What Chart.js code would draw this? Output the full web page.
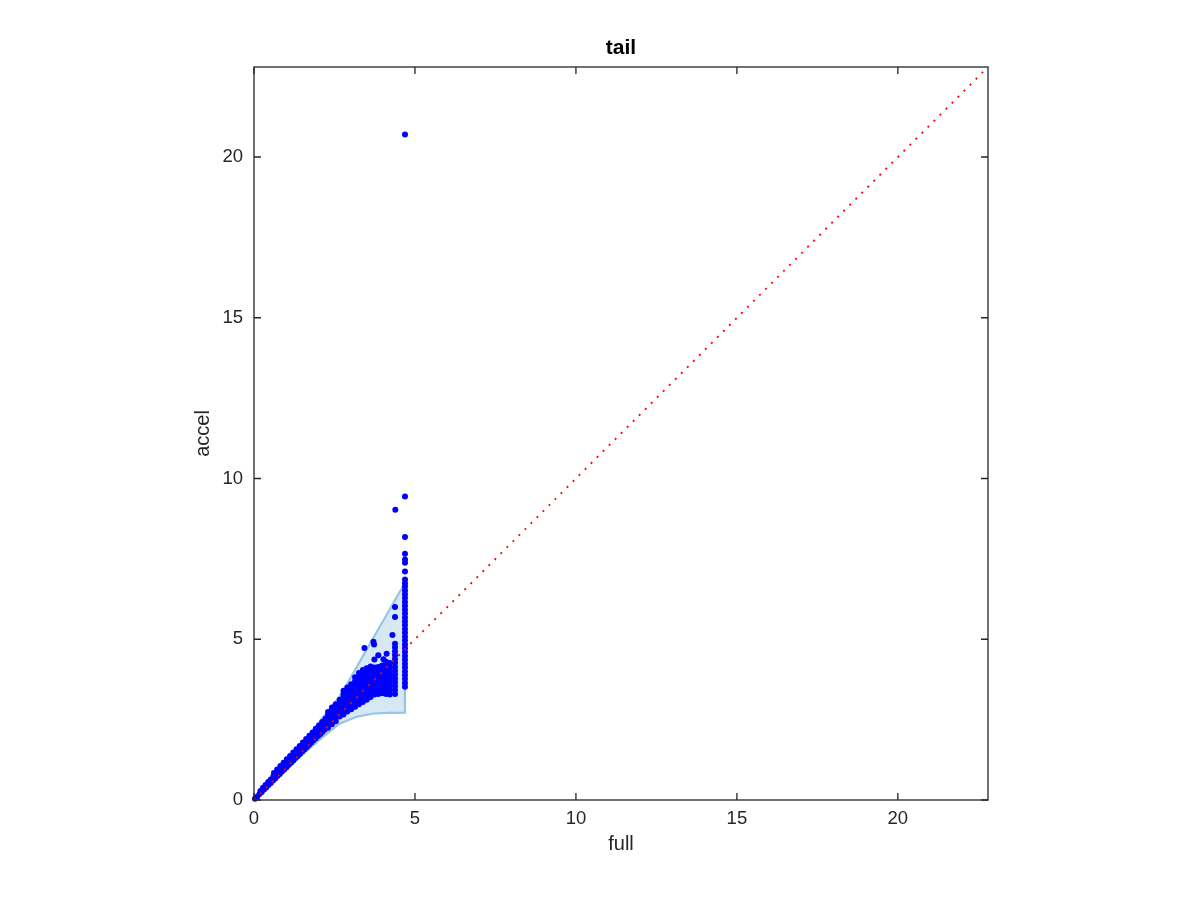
<!DOCTYPE html>
<html>
<head>
<meta charset="utf-8">
<title>tail</title>
<script src="https://cdn.jsdelivr.net/npm/chart.js@4.4.1/dist/chart.umd.min.js"></script>
<style>
html,body{margin:0;padding:0;background:#fff}
#wrap{width:1200px;height:900px}
</style>
</head>
<body>
<div id="wrap"><canvas id="c" width="1200" height="900"></canvas></div>
<script>
// values: x = full, y = accel
const AXIS_MAX = 22.8;
const tickVals = [0, 5, 10, 15, 20];

// shaded band edges
const shadeUpper = [[0,0],[0.5,0.56],[1,1.15],[1.5,1.76],[2,2.4],[2.5,3.03],[2.67,3.23],[3,3.8],[3.5,4.68],[4,5.55],[4.68,6.74]];
const shadeLower = [[0,0],[0.5,0.48],[1,0.95],[1.5,1.4],[2.15,1.97],[2.67,2.38],[3.19,2.59],[3.71,2.69],[4.2,2.71],[4.69,2.72]];

// thin band near the origin
const bandPts = [
  [0.03,0.04],[0.1,0.1],[0.17,0.19],[0.24,0.25],[0.31,0.33],[0.38,0.39],[0.45,0.47],[0.52,0.53],
  [0.59,0.61],[0.66,0.67],[0.73,0.75],[0.8,0.81],[0.87,0.89],[0.94,0.95],[1.01,1.02],[1.08,1.1],
  [1.15,1.16],[1.22,1.23],[1.29,1.31],[1.36,1.37],[1.43,1.44],[1.5,1.52],[1.57,1.58],[1.64,1.65],
  [1.71,1.72],[1.78,1.79],[1.85,1.86],[1.92,1.92],[1.99,1.99],[2.06,2.05],[2.13,2.12],[2.2,2.19],
  [0.2,0.28],[0.28,0.38],[0.36,0.47],[0.44,0.56],[0.52,0.64],[0.6,0.73],[0.68,0.81],[0.76,0.89],
  [0.84,0.97],[0.92,1.05],[1.0,1.13],[1.08,1.21],[1.16,1.29],[1.24,1.38],[1.32,1.46],[1.4,1.54],
  [1.48,1.62],[1.56,1.7],[1.64,1.79],[1.72,1.87],[1.8,1.95],[1.88,2.03],[1.96,2.12],[2.04,2.2],
  [2.12,2.29],[2.2,2.37],
  [0.62,0.84],[0.72,0.95],[0.82,1.06],[0.92,1.16],[1.02,1.27],[1.12,1.37],[1.22,1.48],[1.32,1.58],
  [1.42,1.68],[1.52,1.79],[1.62,1.9],[1.72,2.0],[1.82,2.1],[1.92,2.22],[2.02,2.32],[2.12,2.43],[2.22,2.53]
];

// wider cluster, x 2.3 .. 4.2
const clusterPts = [
  [2.3,2.25],[2.3,2.38],[2.3,2.5],[2.3,2.62],[2.3,2.74],
  [2.42,2.36],[2.42,2.5],[2.42,2.63],[2.42,2.76],[2.42,2.88],
  [2.54,2.45],[2.54,2.58],[2.54,2.72],[2.54,2.85],[2.54,2.98],
  [2.66,2.6],[2.66,2.73],[2.66,2.86],[2.66,2.99],[2.66,3.12],
  [2.78,2.66],[2.78,2.8],[2.78,2.94],[2.78,3.08],[2.78,3.2],[2.78,3.3],[2.78,3.4],
  [2.9,2.75],[2.9,2.88],[2.9,3.02],[2.9,3.15],[2.9,3.28],[2.9,3.38],[2.9,3.5],
  [3.02,2.82],[3.02,2.96],[3.02,3.1],[3.02,3.23],[3.02,3.36],[3.02,3.48],[3.02,3.6],
  [3.14,2.9],[3.14,3.04],[3.14,3.18],[3.14,3.32],[3.14,3.45],[3.14,3.6],[3.14,3.7],[3.14,3.82],
  [3.26,2.98],[3.26,3.12],[3.26,3.26],[3.26,3.4],[3.26,3.54],[3.26,3.68],[3.26,3.82],[3.26,3.95],
  [3.38,3.05],[3.38,3.2],[3.38,3.34],[3.38,3.48],[3.38,3.62],[3.38,3.76],[3.38,3.9],[3.38,4.04],
  [3.5,3.12],[3.5,3.26],[3.5,3.4],[3.5,3.54],[3.5,3.68],[3.5,3.82],[3.5,3.96],[3.5,4.1],
  [3.62,3.2],[3.62,3.34],[3.62,3.48],[3.62,3.62],[3.62,3.76],[3.62,3.9],[3.62,4.04],[3.62,4.15],
  [3.74,3.28],[3.74,3.42],[3.74,3.56],[3.74,3.7],[3.74,3.84],[3.74,3.98],[3.74,4.12],
  [3.86,3.3],[3.86,3.44],[3.86,3.58],[3.86,3.72],[3.86,3.86],[3.86,4.0],[3.86,4.14],
  [3.98,3.32],[3.98,3.46],[3.98,3.6],[3.98,3.74],[3.98,3.88],[3.98,4.02],[3.98,4.18],
  [4.1,3.3],[4.1,3.44],[4.1,3.58],[4.1,3.72],[4.1,3.86],[4.1,4.0],[4.1,4.15],[4.1,4.3],
  [4.22,3.28],[4.22,3.42],[4.22,3.56],[4.22,3.7],[4.22,3.84],[4.22,3.98],[4.22,4.12],[4.22,4.26],
  [3.43,4.73],[3.71,4.92],[3.73,4.84],[3.74,4.37],[4.02,4.38],[3.86,4.5],[4.12,4.55],[4.3,5.13]
];

// the two vertical columns near x = 4.4 and x = 4.7
const columnPts = [
  [4.38,3.3],[4.38,3.42],[4.38,3.54],[4.38,3.66],[4.38,3.78],[4.38,3.9],[4.38,4.02],[4.38,4.14],
  [4.38,4.26],[4.38,4.38],[4.38,4.5],[4.38,4.62],[4.38,4.74],[4.38,4.86],[4.38,5.69],[4.38,6.0],
  [4.69,3.52],[4.69,3.64],[4.69,3.76],[4.69,3.88],[4.69,4.0],[4.69,4.12],[4.69,4.24],[4.69,4.36],
  [4.69,4.48],[4.69,4.6],[4.69,4.72],[4.69,4.84],[4.69,4.96],[4.69,5.08],[4.69,5.2],[4.69,5.32],
  [4.69,5.44],[4.69,5.56],[4.69,5.68],[4.69,5.8],[4.69,5.92],[4.69,6.04],[4.69,6.16],[4.69,6.28],
  [4.69,6.4],[4.69,6.52],[4.69,6.64],[4.69,6.74]
];

const outlierPts = [[4.69,6.86],[4.69,7.11],[4.69,7.38],[4.69,7.48],[4.69,7.66],[4.69,8.18],[4.69,9.44],[4.39,9.03],[4.69,20.7]];

const diagLine = [[0,0],[AXIS_MAX,AXIS_MAX]];

const AXIS_COLOR = '#262626';
const FONT = '"Liberation Sans", Arial, Helvetica, sans-serif';

function toXY(arr){ return arr.map(p => ({x:p[0], y:p[1]})); }

const shadePoly = shadeUpper.concat(shadeLower.slice().reverse());
const scatterAll = bandPts.concat(clusterPts, columnPts, outlierPts);

// draw the full box and the inward tick marks on all four sides
const boxPlugin = {
  id: 'boxTicks',
  afterDatasetsDraw(chart){
    const {ctx, chartArea:a, scales} = chart;
    const len = 7;
    ctx.save();
    ctx.strokeStyle = AXIS_COLOR;
    ctx.lineWidth = 1.3;
    ctx.strokeRect(a.left, a.top, a.right - a.left, a.bottom - a.top);
    ctx.beginPath();
    scales.x.ticks.forEach(t => {
      const px = scales.x.getPixelForValue(t.value);
      ctx.moveTo(px, a.bottom); ctx.lineTo(px, a.bottom - len);
      ctx.moveTo(px, a.top); ctx.lineTo(px, a.top + len);
    });
    scales.y.ticks.forEach(t => {
      const py = scales.y.getPixelForValue(t.value);
      ctx.moveTo(a.left, py); ctx.lineTo(a.left + len, py);
      ctx.moveTo(a.right, py); ctx.lineTo(a.right - len, py);
    });
    ctx.stroke();
    ctx.restore();
  }
};

function axisCommon(titleText, fitFn){
  return {
    type: 'linear',
    min: 0,
    max: AXIS_MAX,
    afterBuildTicks: s => { s.ticks = tickVals.map(v => ({value: v})); },
    afterFit: fitFn,
    grid: {display: false},
    border: {display: false},
    ticks: {color: AXIS_COLOR, font: {family: FONT, size: 18.5}},
    title: {display: true, text: titleText, color: AXIS_COLOR, font: {family: FONT, size: 20}, padding: {top: 4, bottom: 4}}
  };
}

const xAxis = axisCommon('full', s => { s.height = 60; });
xAxis.ticks.padding = 0;
const yAxis = axisCommon('accel', s => { s.width = 67; });
yAxis.ticks.padding = 3;

new Chart(document.getElementById('c'), {
  type: 'scatter',
  data: {
    datasets: [
      {
        label: 'diag',
        data: toXY(diagLine),
        showLine: true,
        borderColor: '#ff0000',
        borderWidth: 1.8,
        borderDash: [2, 6.5],
        pointRadius: 0,
        fill: false,
        clip: false,
        order: 1
      },
      {
        label: 'points',
        data: toXY(scatterAll),
        backgroundColor: '#0000ff',
        borderWidth: 0,
        pointRadius: 3,
        clip: false,
        order: 2
      },
      {
        label: 'range',
        data: toXY(shadePoly),
        showLine: true,
        borderColor: 'rgb(150,196,228)',
        borderWidth: 2.2,
        backgroundColor: 'rgb(214,232,244)',
        fill: 'shape',
        pointRadius: 0,
        order: 3
      }
    ]
  },
  options: {
    responsive: false,
    animation: false,
    layout: {padding: {left: 187, right: 212, top: 26, bottom: 40}},
    plugins: {
      legend: {display: false},
      tooltip: {enabled: false},
      title: {
        display: true,
        text: 'tail',
        fullSize: false,
        color: '#000',
        font: {family: FONT, size: 21, weight: 'bold'},
        padding: {top: 9.4, bottom: 6.4}
      }
    },
    scales: {x: xAxis, y: yAxis}
  },
  plugins: [boxPlugin]
});
</script>
</body>
</html>
